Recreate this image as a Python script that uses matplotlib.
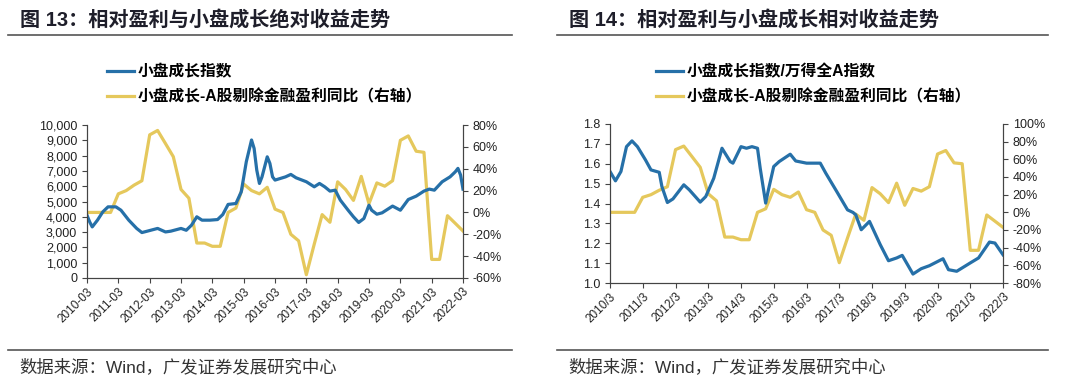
import numpy as np
import pandas as pd
import matplotlib
matplotlib.use("Agg")
import matplotlib.pyplot as plt
import matplotlib.dates as mdates
from matplotlib.lines import Line2D
from matplotlib.ticker import FuncFormatter, MultipleLocator

plt.rcParams['font.family'] = ['Liberation Sans', 'Noto Sans CJK SC']

BLUE = '#2670A8'
YELLOW = '#E5C85C'
TITLE_C = '#1E1E2A'

# yellow series: quarterly, 小盘成长-A股剔除金融盈利同比 (%), same in both charts
profit_quarters = pd.date_range('2010-03-01', '2022-03-01', freq='3MS')
profit_yoy = [0, 0, 0, 0,
              17, 20, 25, 29,
              71, 75, 63, 51,
              21, 13, -28, -28,
              -31, -31, 0, 4,
              26, 20, 17, 23,
              3, 0, -20, -26,
              -57, -29, -2, -9,
              28, 21, 11, 33,
              8, 27, 24, 29,
              66, 70, 56, 55,
              -43, -43, -3, -10,
              -17]

# blue series chart 13: 小盘成长指数 (monthly readings)
index_months = ['2010-03', '2010-04', '2010-05', '2010-07', '2010-09', '2010-11', '2011-02', '2011-04',
                '2011-07', '2011-10', '2011-12', '2012-02', '2012-06', '2012-09', '2012-11', '2013-03',
                '2013-05', '2013-07', '2013-09', '2013-11', '2014-02', '2014-05', '2014-07', '2014-09',
                '2014-12', '2015-02', '2015-04', '2015-06', '2015-07', '2015-08', '2015-09', '2015-10',
                '2015-12', '2016-01', '2016-02', '2016-03', '2016-07', '2016-09', '2016-11', '2017-03',
                '2017-06', '2017-08', '2017-10', '2017-12', '2018-02', '2018-04', '2018-07', '2018-09',
                '2018-11', '2019-01', '2019-03', '2019-04', '2019-06', '2019-08', '2019-12', '2020-03',
                '2020-06', '2020-09', '2020-12', '2021-02', '2021-04', '2021-07', '2021-10', '2021-12',
                '2022-01', '2022-02', '2022-03']
index_level = [4100, 3670, 3340, 3780, 4320, 4650, 4650, 4430,
               3780, 3240, 2970, 3060, 3240, 3010, 3060, 3240,
               3120, 3450, 4000, 3780, 3780, 3820, 4150, 4810,
               4870, 5630, 7600, 9020, 8470, 7050, 6180, 6610,
               7920, 7490, 6610, 6400, 6610, 6770, 6550, 6290,
               5960, 6180, 5960, 5680, 5740, 5090, 4430, 4000,
               3630, 3890, 4760, 4430, 4170, 4260, 4700, 4430,
               5130, 5350, 5680, 5810, 5740, 6290, 6610, 6940,
               7165, 6730, 5810]

# blue series chart 14: 小盘成长指数/万得全A指数
ratio_months = ['2010-03', '2010-05', '2010-07', '2010-09', '2010-11', '2011-01', '2011-04', '2011-06',
                '2011-09', '2011-10', '2011-12', '2012-02', '2012-06', '2012-08', '2012-12', '2013-02',
                '2013-05', '2013-08', '2013-11', '2013-12', '2014-03', '2014-05', '2014-07', '2014-09',
                '2014-10', '2014-12', '2015-01', '2015-03', '2015-05', '2015-09', '2015-11', '2016-03',
                '2016-08', '2016-10', '2017-02', '2017-06', '2017-08', '2017-09', '2017-11', '2018-02',
                '2018-06', '2018-09', '2018-12', '2019-02', '2019-06', '2019-09', '2019-12', '2020-05',
                '2020-07', '2020-10', '2021-03', '2021-06', '2021-10', '2021-12', '2022-03']
ratio_level = [1.561, 1.514, 1.561, 1.686, 1.715, 1.686, 1.619, 1.569,
               1.557, 1.485, 1.405, 1.423, 1.494, 1.469, 1.407, 1.435,
               1.527, 1.678, 1.611, 1.603, 1.686, 1.678, 1.686, 1.678,
               1.578, 1.402, 1.469, 1.586, 1.611, 1.648, 1.614, 1.603,
               1.603, 1.553, 1.460, 1.368, 1.355, 1.343, 1.268, 1.310,
               1.193, 1.112, 1.126, 1.139, 1.045, 1.072, 1.087, 1.122,
               1.067, 1.059, 1.101, 1.126, 1.206, 1.201, 1.142]

panels = [
    dict(title='图 13：相对盈利与小盘成长绝对收益走势',
         blue_label='小盘成长指数',
         months=index_months, values=index_level,
         ylim=(0, 10000), ystep=1000, yfmt=lambda v, p: f'{v:,.0f}',
         rlim=(-60, 80), tickfmt='%Y-%m',
         rect=[87 / 1080, 1 - 278 / 379, 376 / 1080, 153 / 379], x0=8, x1=512),
    dict(title='图 14：相对盈利与小盘成长相对收益走势',
         blue_label='小盘成长指数/万得全A指数',
         months=ratio_months, values=ratio_level,
         ylim=(1.0, 1.8), ystep=0.1, yfmt=lambda v, p: f'{v:.1f}',
         rlim=(-80, 100), tickfmt='year/3',
         rect=[610 / 1080, 1 - 283 / 379, 393 / 1080, 159 / 379], x0=557, x1=1048),
]

fig = plt.figure(figsize=(10.8, 3.79), dpi=100)
W, H = 1080, 379

for p in panels:
    ax = fig.add_axes(p['rect'])
    ax2 = ax.twinx()

    bx = pd.to_datetime(p['months'])
    l1, = ax.plot(bx, p['values'], color=BLUE, lw=2.3, solid_joinstyle='round')
    l2, = ax2.plot(profit_quarters, profit_yoy, color=YELLOW, lw=2.3)
    ax.set_zorder(ax2.get_zorder() + 1)
    ax.patch.set_visible(False)

    ax.set_ylim(*p['ylim'])
    ax.yaxis.set_major_locator(MultipleLocator(p['ystep']))
    ax.yaxis.set_major_formatter(FuncFormatter(p['yfmt']))
    ax2.set_ylim(*p['rlim'])
    ax2.yaxis.set_major_locator(MultipleLocator(20))
    ax2.yaxis.set_major_formatter(FuncFormatter(lambda v, pos: f'{v:.0f}%'))

    ax.set_xlim(pd.Timestamp('2010-03-01'), pd.Timestamp('2022-03-01'))
    ax.xaxis.set_major_locator(mdates.MonthLocator(bymonth=3, bymonthday=1))
    if p['tickfmt'] == 'year/3':
        ax.xaxis.set_major_formatter(FuncFormatter(lambda v, pos: f'{mdates.num2date(v).year}/3'))
    else:
        ax.xaxis.set_major_formatter(mdates.DateFormatter(p['tickfmt']))
    for lab in ax.get_xticklabels():
        lab.set_rotation(45)
        lab.set_ha('right')
        lab.set_rotation_mode('anchor')

    for a in (ax, ax2):
        a.spines['top'].set_visible(False)
        for s in ('left', 'right', 'bottom'):
            a.spines[s].set_color('#444444')
            a.spines[s].set_linewidth(0.8)
        a.tick_params(direction='out', length=3.5, width=0.8, colors='#444444',
                      labelcolor='#222222', labelsize=9)
    ax.tick_params(axis='x', labelsize=8.5, pad=2)

    # title, rules, legend, source
    fig.text((p['x0'] + 12) / W, 1 - 20 / H, p['title'], fontsize=14.5, fontweight='bold',
             color=TITLE_C, va='center', ha='left')
    fig.add_artist(Line2D([p['x0'] / W, p['x1'] / W], [1 - 35 / H] * 2, color='#555555', lw=1.2))
    fig.add_artist(Line2D([p['x0'] / W, p['x1'] / W], [1 - 350 / H] * 2, color='#555555', lw=1.2))
    fig.text((p['x0'] + 11) / W, 1 - 367 / H, '数据来源：Wind，广发证券发展研究中心', fontsize=12.5,
             color='#333333', va='center', ha='left')
    fig.legend([l1, l2], [p['blue_label'], '小盘成长-A股剔除金融盈利同比（右轴）'],
               loc='upper left', bbox_to_anchor=((p['x0'] + 99) / W, 1 - 64 / H),
               frameon=False, handlelength=1.75, handletextpad=0.2,
               labelspacing=0.62, borderaxespad=0, borderpad=0,
               prop={'weight': 'bold', 'size': 11.3})

fig.savefig('out.png', dpi=100)
